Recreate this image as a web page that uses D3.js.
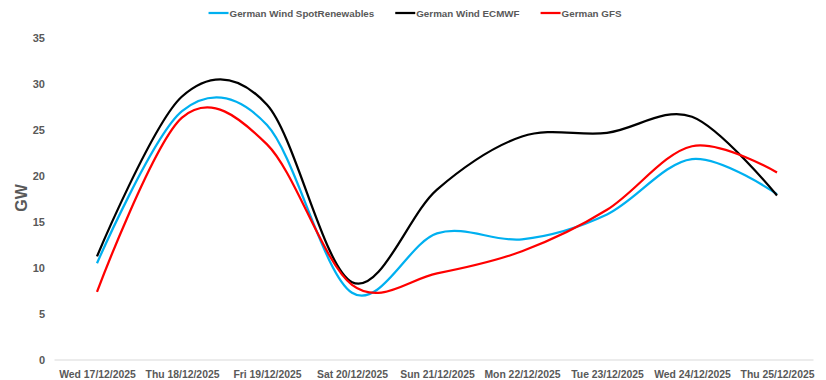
<!DOCTYPE html>
<html>
<head>
<meta charset="utf-8">
<script src="https://cdn.jsdelivr.net/npm/d3@7"></script>
<style>
  body { margin: 0; background: #fff; }
  text { font-family: 'Liberation Sans Narrow', 'Arial Narrow', sans-serif; font-weight: bold; fill: #595959; }
</style>
</head>
<body>
<div id="chart-area"></div>
<script>
/* Data */
const days = ['Wed 17/12/2025', 'Thu 18/12/2025', 'Fri 19/12/2025', 'Sat 20/12/2025', 'Sun 21/12/2025',
  'Mon 22/12/2025', 'Tue 23/12/2025', 'Wed 24/12/2025', 'Thu 25/12/2025']
const spotRenewables = [10.5, 27.0, 25.5, 7.3, 13.75, 13.1, 15.8, 21.8, 18.0]
const ecmwf = [11.25, 28.6, 27.7, 8.45, 18.5, 24.25, 24.65, 26.4, 17.85]
const gfs = [7.4, 26.3, 23.4, 8.15, 9.4, 11.8, 16.3, 23.2, 20.35]
const yTicks = [0, 5, 10, 15, 20, 25, 30, 35]

const series = [
  { name: 'German Wind SpotRenewables', values: spotRenewables, color: '#00b0f0' },
  { name: 'German Wind ECMWF', values: ecmwf, color: '#000000' },
  { name: 'German GFS', values: gfs, color: '#ff0000' }
]

/* Canvas */
const CANVAS_WIDTH = 826
const CANVAS_HEIGHT = 380

const $canvas = d3.select('#chart-area')
  .append('svg')
  .attr('width', CANVAS_WIDTH)
  .attr('height', CANVAS_HEIGHT)

/* Scales */
const scaleX = d3.scalePoint()
  .domain(days)
  .range([97, 777])

const step = scaleX.step()

const scaleY = d3.scaleLinear()
  .domain([0, 35])
  .range([360, 37.5])

/* Axes */
// x baseline
$canvas.append('line')
  .attr('x1', scaleX(days[0]) - step / 2)
  .attr('x2', scaleX(days[days.length - 1]) + step / 2 - 6)
  .attr('y1', scaleY(0))
  .attr('y2', scaleY(0))
  .attr('stroke', '#d9d9d9')
  .attr('stroke-width', 1)

const xAxisCall = d3.axisBottom(scaleX).tickSize(0).tickPadding(0)
const $xAxisGroup = $canvas.append('g')
  .attr('transform', `translate(0, ${scaleY(0)})`)
  .call(xAxisCall)
$xAxisGroup.select('.domain').remove()
$xAxisGroup.selectAll('text')
  .attr('dy', null)
  .attr('y', 18)
  .attr('font-size', 10.4)

const yAxisCall = d3.axisLeft(scaleY).tickValues(yTicks).tickSize(0).tickPadding(0)
const $yAxisGroup = $canvas.append('g')
  .attr('transform', 'translate(45, 0)')
  .call(yAxisCall)
$yAxisGroup.select('.domain').remove()
$yAxisGroup.selectAll('text')
  .attr('font-size', 11)

// y-label
$canvas.append('text')
  .attr('x', -198)
  .attr('y', 27)
  .attr('font-size', 16)
  .attr('text-anchor', 'middle')
  .attr('transform', 'rotate(-90)')
  .text('GW')

/* Lines */
const line = d3.line()
  .x((d, i) => scaleX(days[i]))
  .y(d => scaleY(d))
  .curve(d3.curveCardinal.tension(0))

$canvas.append('g')
  .selectAll('path')
  .data(series)
  .enter()
  .append('path')
  .attr('d', d => line(d.values))
  .attr('fill', 'none')
  .attr('stroke', d => d.color)
  .attr('stroke-width', 2.25)
  .attr('stroke-linejoin', 'round')

/* Legend */
const $legend = $canvas.append('g')
let offset = 0
series.forEach(s => {
  const $item = $legend.append('g').attr('transform', `translate(${offset}, 0)`)
  $item.append('line')
    .attr('x1', 0)
    .attr('x2', 20)
    .attr('y1', 13)
    .attr('y2', 13)
    .attr('stroke', s.color)
    .attr('stroke-width', 2.25)
  const $t = $item.append('text')
    .attr('x', 21)
    .attr('y', 16.5)
    .attr('font-size', 9.8)
    .text(s.name)
  offset += 21 + $t.node().getComputedTextLength() + 21
})
const legendWidth = offset - 21
$legend.attr('transform', `translate(${(212 + 618) / 2 - legendWidth / 2}, 0)`)
</script>
</body>
</html>
